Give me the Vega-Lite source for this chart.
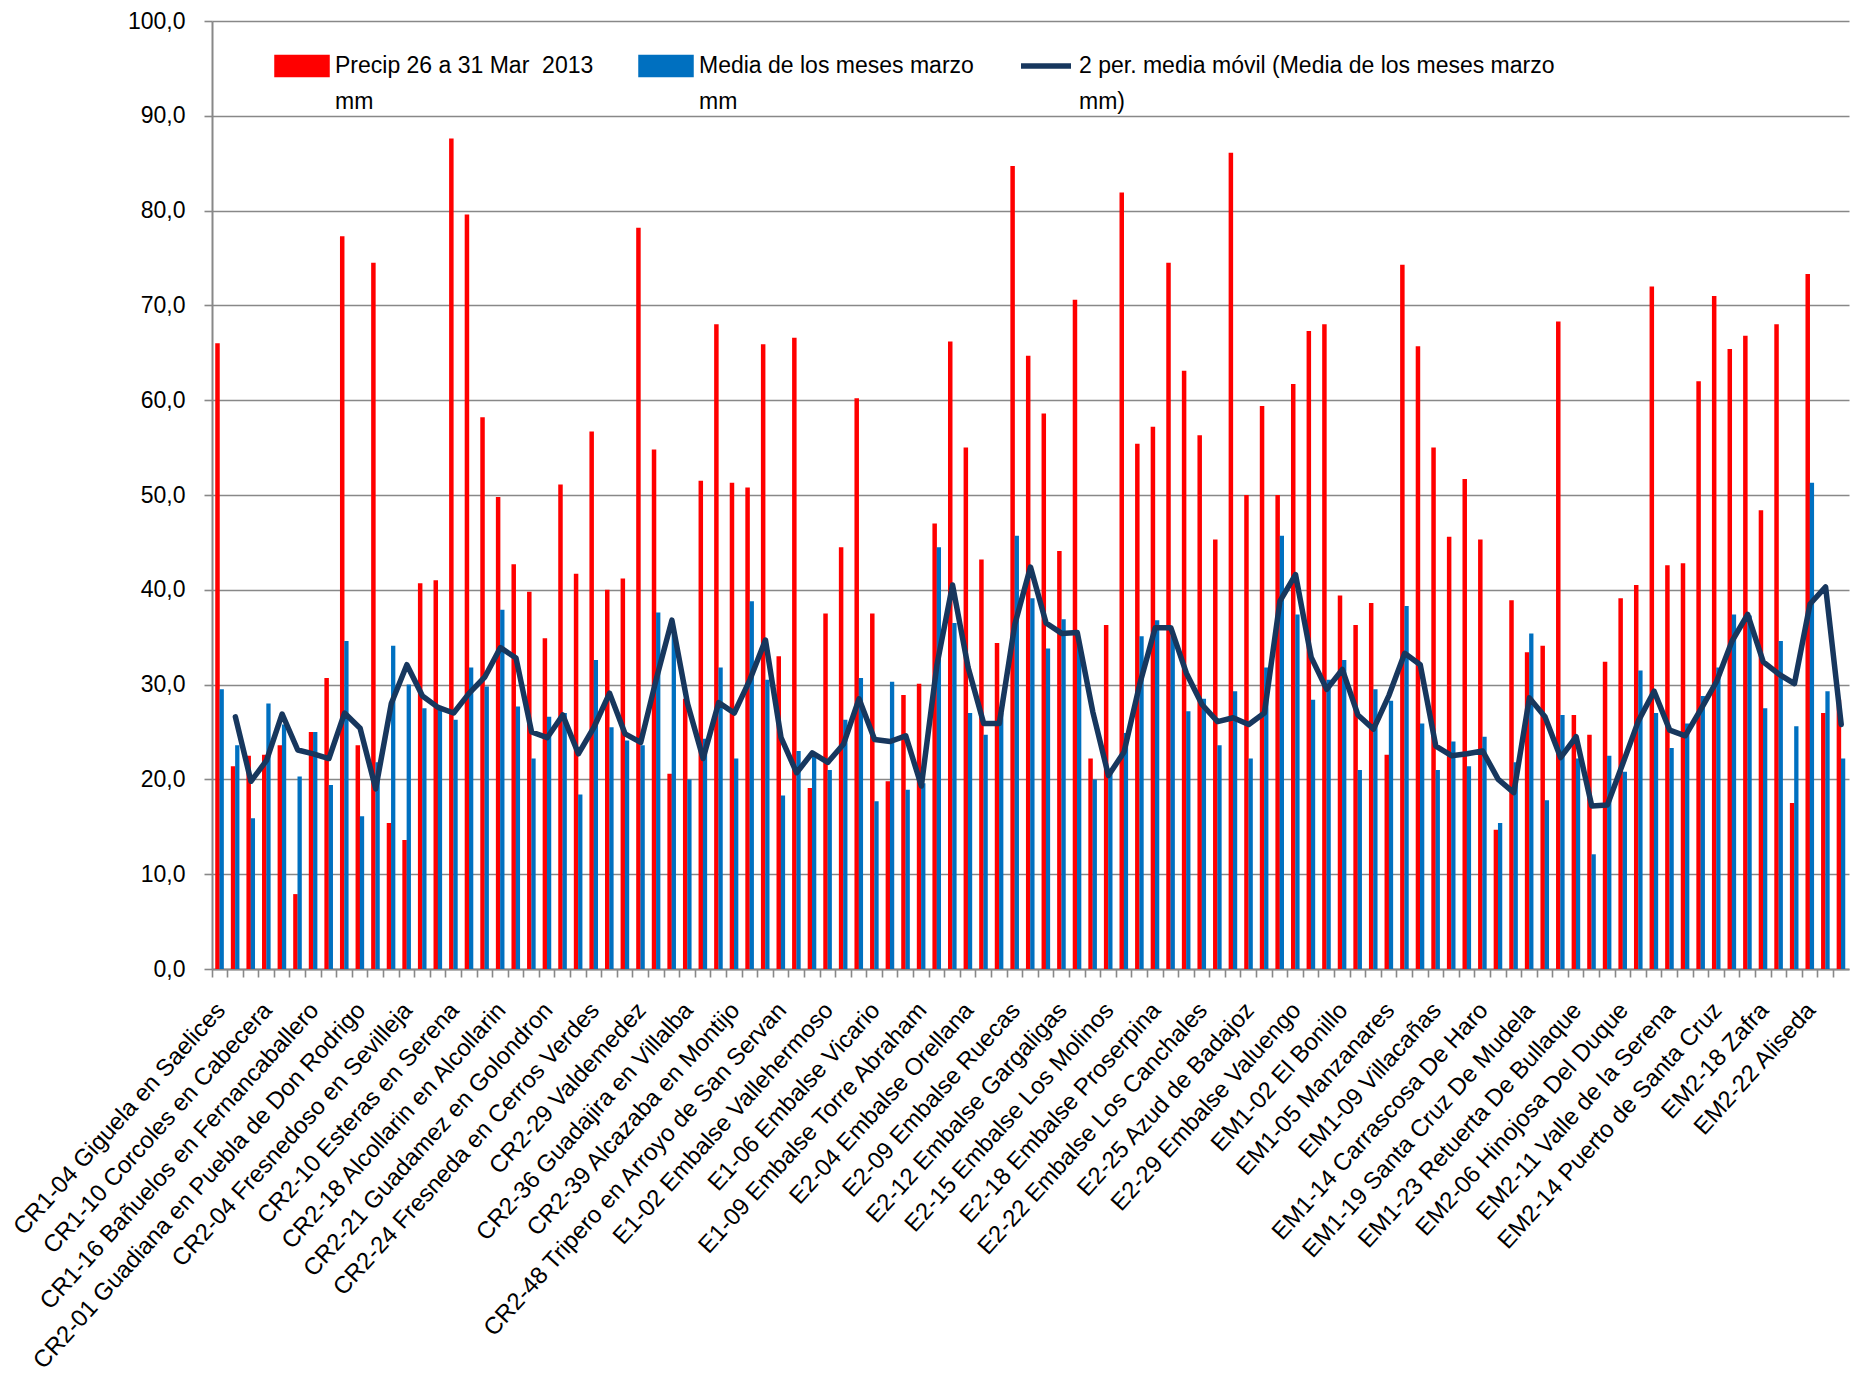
{
  "$schema": "https://vega.github.io/schema/vega-lite/v6.json",
  "width": 1637,
  "height": 948,
  "autosize": {"type": "none"},
  "padding": {"left": 212, "top": 21, "right": 15, "bottom": 421},
  "background": "white",
  "config": {"view": {"stroke": null}, "font": "Liberation Sans"},
  "datasets": {
    "precip": [
      {"i":0,"mm":66.0},{"i":1,"mm":21.4},{"i":2,"mm":22.5},{"i":3,"mm":22.6},{"i":4,"mm":23.6},{"i":5,"mm":7.9},{"i":6,"mm":25.0},{"i":7,"mm":30.7},{"i":8,"mm":77.3},{"i":9,"mm":23.6},
      {"i":10,"mm":74.5},{"i":11,"mm":15.4},{"i":12,"mm":13.6},{"i":13,"mm":40.7},{"i":14,"mm":41.0},{"i":15,"mm":87.6},{"i":16,"mm":79.6},{"i":17,"mm":58.2},{"i":18,"mm":49.8},{"i":19,"mm":42.7},
      {"i":20,"mm":39.8},{"i":21,"mm":34.9},{"i":22,"mm":51.1},{"i":23,"mm":41.7},{"i":24,"mm":56.7},{"i":25,"mm":40.0},{"i":26,"mm":41.2},{"i":27,"mm":78.2},{"i":28,"mm":54.8},{"i":29,"mm":20.6},
      {"i":30,"mm":28.5},{"i":31,"mm":51.5},{"i":32,"mm":68.0},{"i":33,"mm":51.3},{"i":34,"mm":50.8},{"i":35,"mm":65.9},{"i":36,"mm":33.0},{"i":37,"mm":66.6},{"i":38,"mm":19.1},{"i":39,"mm":37.5},
      {"i":40,"mm":44.5},{"i":41,"mm":60.2},{"i":42,"mm":37.5},{"i":43,"mm":19.8},{"i":44,"mm":28.9},{"i":45,"mm":30.1},{"i":46,"mm":47.0},{"i":47,"mm":66.2},{"i":48,"mm":55.0},{"i":49,"mm":43.2},
      {"i":50,"mm":34.4},{"i":51,"mm":84.7},{"i":52,"mm":64.7},{"i":53,"mm":58.6},{"i":54,"mm":44.1},{"i":55,"mm":70.6},{"i":56,"mm":22.2},{"i":57,"mm":36.3},{"i":58,"mm":81.9},{"i":59,"mm":55.4},
      {"i":60,"mm":57.2},{"i":61,"mm":74.5},{"i":62,"mm":63.1},{"i":63,"mm":56.3},{"i":64,"mm":45.3},{"i":65,"mm":86.1},{"i":66,"mm":50.0},{"i":67,"mm":59.4},{"i":68,"mm":50.0},{"i":69,"mm":61.7},
      {"i":70,"mm":67.3},{"i":71,"mm":68.0},{"i":72,"mm":39.4},{"i":73,"mm":36.3},{"i":74,"mm":38.6},{"i":75,"mm":22.6},{"i":76,"mm":74.3},{"i":77,"mm":65.7},{"i":78,"mm":55.0},{"i":79,"mm":45.6},
      {"i":80,"mm":51.7},{"i":81,"mm":45.3},{"i":82,"mm":14.7},{"i":83,"mm":38.9},{"i":84,"mm":33.4},{"i":85,"mm":34.1},{"i":86,"mm":68.3},{"i":87,"mm":26.8},{"i":88,"mm":24.7},{"i":89,"mm":32.4},
      {"i":90,"mm":39.1},{"i":91,"mm":40.5},{"i":92,"mm":72.0},{"i":93,"mm":42.6},{"i":94,"mm":42.8},{"i":95,"mm":62.0},{"i":96,"mm":71.0},{"i":97,"mm":65.4},{"i":98,"mm":66.8},{"i":99,"mm":48.4},
      {"i":100,"mm":68.0},{"i":101,"mm":17.5},{"i":102,"mm":73.3},{"i":103,"mm":27.0},{"i":104,"mm":28.4}
    ],
    "media": [
      {"i":0,"mm":29.5},{"i":1,"mm":23.6},{"i":2,"mm":15.9},{"i":3,"mm":28.0},{"i":4,"mm":25.8},{"i":5,"mm":20.3},{"i":6,"mm":25.0},{"i":7,"mm":19.4},{"i":8,"mm":34.6},{"i":9,"mm":16.1},
      {"i":10,"mm":21.8},{"i":11,"mm":34.1},{"i":12,"mm":30.0},{"i":13,"mm":27.5},{"i":14,"mm":27.6},{"i":15,"mm":26.3},{"i":16,"mm":31.8},{"i":17,"mm":29.8},{"i":18,"mm":37.9},{"i":19,"mm":27.7},
      {"i":20,"mm":22.2},{"i":21,"mm":26.6},{"i":22,"mm":27.0},{"i":23,"mm":18.4},{"i":24,"mm":32.6},{"i":25,"mm":25.5},{"i":26,"mm":24.1},{"i":27,"mm":23.6},{"i":28,"mm":37.6},{"i":29,"mm":36.0},
      {"i":30,"mm":20.0},{"i":31,"mm":24.3},{"i":32,"mm":31.8},{"i":33,"mm":22.2},{"i":34,"mm":38.8},{"i":35,"mm":30.5},{"i":36,"mm":18.3},{"i":37,"mm":23.0},{"i":38,"mm":22.5},{"i":39,"mm":21.0},
      {"i":40,"mm":26.3},{"i":41,"mm":30.7},{"i":42,"mm":17.7},{"i":43,"mm":30.3},{"i":44,"mm":18.9},{"i":45,"mm":19.6},{"i":46,"mm":44.5},{"i":47,"mm":36.5},{"i":48,"mm":27.0},{"i":49,"mm":24.7},
      {"i":50,"mm":27.0},{"i":51,"mm":45.7},{"i":52,"mm":39.1},{"i":53,"mm":33.8},{"i":54,"mm":36.9},{"i":55,"mm":34.1},{"i":56,"mm":20.0},{"i":57,"mm":20.8},{"i":58,"mm":24.9},{"i":59,"mm":35.1},
      {"i":60,"mm":36.8},{"i":61,"mm":35.1},{"i":62,"mm":27.2},{"i":63,"mm":28.5},{"i":64,"mm":23.6},{"i":65,"mm":29.3},{"i":66,"mm":22.2},{"i":67,"mm":31.8},{"i":68,"mm":45.7},{"i":69,"mm":37.4},
      {"i":70,"mm":28.4},{"i":71,"mm":30.5},{"i":72,"mm":32.6},{"i":73,"mm":21.0},{"i":74,"mm":29.5},{"i":75,"mm":28.3},{"i":76,"mm":38.3},{"i":77,"mm":25.9},{"i":78,"mm":21.0},{"i":79,"mm":24.0},
      {"i":80,"mm":21.4},{"i":81,"mm":24.5},{"i":82,"mm":15.4},{"i":83,"mm":21.8},{"i":84,"mm":35.4},{"i":85,"mm":17.8},{"i":86,"mm":26.8},{"i":87,"mm":22.2},{"i":88,"mm":12.1},{"i":89,"mm":22.5},
      {"i":90,"mm":20.8},{"i":91,"mm":31.5},{"i":92,"mm":27.0},{"i":93,"mm":23.3},{"i":94,"mm":25.9},{"i":95,"mm":28.8},{"i":96,"mm":31.8},{"i":97,"mm":37.4},{"i":98,"mm":37.3},{"i":99,"mm":27.5},
      {"i":100,"mm":34.6},{"i":101,"mm":25.6},{"i":102,"mm":51.3},{"i":103,"mm":29.3},{"i":104,"mm":22.2}
    ],
    "movil": [
      {"i":1,"mm":26.6},{"i":2,"mm":19.8},{"i":3,"mm":22.0},{"i":4,"mm":26.9},{"i":5,"mm":23.1},{"i":6,"mm":22.7},{"i":7,"mm":22.2},{"i":8,"mm":27.0},{"i":9,"mm":25.4},
      {"i":10,"mm":19.0},{"i":11,"mm":28.0},{"i":12,"mm":32.1},{"i":13,"mm":28.8},{"i":14,"mm":27.6},{"i":15,"mm":27.0},{"i":16,"mm":29.1},{"i":17,"mm":30.8},{"i":18,"mm":33.9},{"i":19,"mm":32.8},
      {"i":20,"mm":25.0},{"i":21,"mm":24.4},{"i":22,"mm":26.8},{"i":23,"mm":22.7},{"i":24,"mm":25.5},{"i":25,"mm":29.1},{"i":26,"mm":24.8},{"i":27,"mm":23.9},{"i":28,"mm":30.6},{"i":29,"mm":36.8},
      {"i":30,"mm":28.0},{"i":31,"mm":22.2},{"i":32,"mm":28.1},{"i":33,"mm":27.0},{"i":34,"mm":30.5},{"i":35,"mm":34.7},{"i":36,"mm":24.4},{"i":37,"mm":20.7},{"i":38,"mm":22.8},{"i":39,"mm":21.8},
      {"i":40,"mm":23.7},{"i":41,"mm":28.5},{"i":42,"mm":24.2},{"i":43,"mm":24.0},{"i":44,"mm":24.6},{"i":45,"mm":19.3},{"i":46,"mm":32.1},{"i":47,"mm":40.5},{"i":48,"mm":31.8},{"i":49,"mm":25.9},
      {"i":50,"mm":25.9},{"i":51,"mm":36.4},{"i":52,"mm":42.4},{"i":53,"mm":36.5},{"i":54,"mm":35.4},{"i":55,"mm":35.5},{"i":56,"mm":27.1},{"i":57,"mm":20.4},{"i":58,"mm":22.9},{"i":59,"mm":30.0},
      {"i":60,"mm":36.0},{"i":61,"mm":36.0},{"i":62,"mm":31.2},{"i":63,"mm":27.9},{"i":64,"mm":26.1},{"i":65,"mm":26.5},{"i":66,"mm":25.8},{"i":67,"mm":27.0},{"i":68,"mm":38.8},{"i":69,"mm":41.6},
      {"i":70,"mm":32.9},{"i":71,"mm":29.5},{"i":72,"mm":31.6},{"i":73,"mm":26.8},{"i":74,"mm":25.3},{"i":75,"mm":28.9},{"i":76,"mm":33.3},{"i":77,"mm":32.1},{"i":78,"mm":23.5},{"i":79,"mm":22.5},
      {"i":80,"mm":22.7},{"i":81,"mm":23.0},{"i":82,"mm":20.0},{"i":83,"mm":18.6},{"i":84,"mm":28.6},{"i":85,"mm":26.6},{"i":86,"mm":22.3},{"i":87,"mm":24.5},{"i":88,"mm":17.2},{"i":89,"mm":17.3},
      {"i":90,"mm":21.7},{"i":91,"mm":26.2},{"i":92,"mm":29.3},{"i":93,"mm":25.2},{"i":94,"mm":24.6},{"i":95,"mm":27.4},{"i":96,"mm":30.3},{"i":97,"mm":34.6},{"i":98,"mm":37.4},{"i":99,"mm":32.4},
      {"i":100,"mm":31.1},{"i":101,"mm":30.1},{"i":102,"mm":38.5},{"i":103,"mm":40.3},{"i":104,"mm":25.8}
    ]
  },
  "encoding": {
    "x": {
      "field": "i",
      "type": "ordinal",
      "scale": {"paddingInner": 0, "paddingOuter": 0},
      "axis": {
        "title": null,
        "bandPosition": 0,
        "labelOffset": -7.5,
        "labelAngle": -48,
        "labelAlign": "right",
        "labelBaseline": "top",
        "labelFont": "Liberation Sans",
        "labelFontSize": 24,
        "labelColor": "#000000",
        "labelPadding": 21,
        "labelOverlap": false,
        "labelBound": false,
        "labelFlush": false,
        "labelLimit": 1000,
        "tickSize": 8,
        "tickColor": "#888888",
        "tickWidth": 1.6,
        "domainColor": "#888888",
        "domainWidth": 2,
        "grid": false,
        "labelExpr": "datum.value % 3 == 0 ? ['CR1-04 Giguela en Saelices','CR1-10 Corcoles en Cabecera','CR1-16 Bañuelos en Fernancaballero','CR2-01 Guadiana en Puebla de Don Rodrigo','CR2-04 Fresnedoso en Sevilleja','CR2-10 Esteras en Serena','CR2-18 Alcollarin en Alcollarin','CR2-21 Guadamez en Golondron','CR2-24 Fresneda en Cerros Verdes','CR2-29 Valdemedez','CR2-36 Guadajira en Villalba','CR2-39 Alcazaba en Montijo','CR2-48 Tripero en Arroyo de San Servan','E1-02 Embalse Vallehermoso','E1-06 Embalse Vicario','E1-09 Embalse Torre Abraham','E2-04 Embalse Orellana','E2-09 Embalse Ruecas','E2-12 Embalse Gargaligas','E2-15 Embalse Los Molinos','E2-18 Embalse Proserpina','E2-22 Embalse Los Canchales','E2-25 Azud de Badajoz','E2-29 Embalse Valuengo','EM1-02 El Bonillo','EM1-05 Manzanares','EM1-09 Villacañas','EM1-14 Carrascosa De Haro','EM1-19 Santa Cruz De Mudela','EM1-23 Retuerta De Bullaque','EM2-06 Hinojosa Del Duque','EM2-11 Valle de la Serena','EM2-14 Puerto de Santa Cruz','EM2-18 Zafra','EM2-22 Aliseda'][datum.value / 3] : ''"
      }
    },
    "y": {
      "field": "mm",
      "type": "quantitative",
      "scale": {"domain": [0, 100]},
      "axis": {
        "title": null,
        "values": [0, 10, 20, 30, 40, 50, 60, 70, 80, 90, 100],
        "format": ".1f",
        "labelExpr": "replace(datum.label, '.', ',')",
        "grid": true,
        "gridColor": "#888888",
        "gridWidth": 1.6,
        "domainColor": "#888888",
        "domainWidth": 2,
        "tickColor": "#888888",
        "tickSize": 8,
        "tickWidth": 1.6,
        "labelFont": "Liberation Sans",
        "labelFontSize": 23,
        "labelColor": "#000000",
        "labelPadding": 19
      }
    }
  },
  "layer": [
    {
      "data": {"name": "precip"},
      "mark": {"type": "bar", "width": 4.5, "xOffset": -2.3},
      "encoding": {
        "color": {
          "datum": "Precip 26 a 31 Mar  2013 mm",
          "scale": {
            "domain": ["Precip 26 a 31 Mar  2013 mm", "Media de los meses marzo mm", "2 per. media móvil (Media de los meses marzo mm)"],
            "range": ["#FF0000", "#0070C0", "#17375E"]
          },
          "legend": {
            "title": null,
            "orient": "none",
            "legendX": 62,
            "legendY": 17,
            "direction": "horizontal",
            "columns": 3,
            "columnPadding": 36,
            "padding": 0,
            "labelFont": "Liberation Sans",
            "labelFontSize": 23,
            "labelColor": "#000000",
            "labelLimit": 900,
            "labelOffset": 5,
            "symbolSize": 2500,
            "labelExpr": "[replace(slice(datum.label, 0, lastindexof(datum.label, ' mm')), '  ', ' \u00a0'), slice(datum.label, lastindexof(datum.label, ' mm') + 1)]",
            "encode": {
              "symbols": {
                "update": {
                  "shape": {"signal": "indexof(datum.value, 'móvil') >= 0 ? 'stroke' : 'M-1,-0.34H1V0.34H-1Z'"},
                  "fill": {"signal": "indexof(datum.value, 'móvil') >= 0 ? 'transparent' : (indexof(datum.value, 'Precip') >= 0 ? '#FF0000' : '#0070C0')"},
                  "stroke": {"signal": "indexof(datum.value, 'móvil') >= 0 ? '#17375E' : 'transparent'"},
                  "strokeWidth": {"value": 5.5},
                  "size": {"value": 2500},
                  "opacity": {"value": 1}
                }
              },
              "labels": {
                "update": {
                  "lineHeight": {"value": 36}
                }
              }
            }
          }
        }
      }
    },
    {
      "data": {"name": "media"},
      "mark": {"type": "bar", "width": 4.3, "xOffset": 1.9},
      "encoding": {
        "color": {"datum": "Media de los meses marzo mm"}
      }
    },
    {
      "data": {"name": "movil"},
      "mark": {"type": "line", "strokeWidth": 5.5, "strokeJoin": "round", "strokeCap": "round"},
      "encoding": {
        "color": {"datum": "2 per. media móvil (Media de los meses marzo mm)"}
      }
    }
  ]
}
